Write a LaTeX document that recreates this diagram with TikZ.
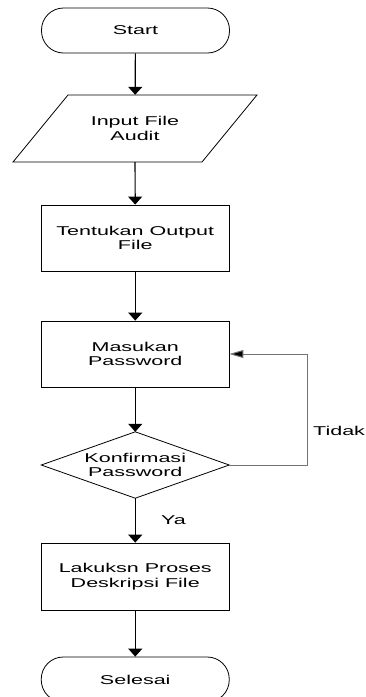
\documentclass[tikz,border=0pt]{standalone}
\usepackage{fontspec}
\newfontfamily\diagfont[FakeStretch=1.68]{Liberation Sans}
\usetikzlibrary{arrows.meta}
\begin{document}
\begin{tikzpicture}[x=1pt,y=-1pt,
  every node/.style={font=\diagfont\fontsize{12.8}{14.5}\selectfont, align=center, inner sep=0pt},
  box/.style={draw, line width=0.8pt, minimum width=187.5pt, minimum height=66pt},
  term/.style={draw, line width=0.8pt, rounded corners=22pt, minimum width=188pt, minimum height=45pt},
  ghost/.style={minimum width=189pt, minimum height=67pt},
  flow/.style={line width=1.2pt, -{Triangle[width=14pt,length=8pt]}},
  back/.style={line width=1pt, draw=black!55, -{Triangle[width=8pt,length=14pt,fill=black]}}
]
\useasboundingbox (0,0) rectangle (365,697);
\node[term] (start) at (135.5,30.5) {Start};
\node[ghost] (input) at (135,128.5) {Input File\\Audit};
\draw[line width=0.8pt] (68,95) -- (257,95) -- (202,162) -- (13,162) -- cycle;
\node[box] (out) at (135.25,238) {Tentukan Output\\File};
\node[box] (pass) at (135.25,354) {Masukan\\Password};
\node[ghost, minimum width=187.5pt, minimum height=66pt] (dec) at (135.25,465) {Konfirmasi\\Password};
\draw[line width=0.8pt] (dec.north) -- (dec.east) -- (dec.south) -- (dec.west) -- cycle;
\node[box, minimum height=67pt] (proc) at (135.25,576.5) {Lakuksn Proses\\Deskripsi File};
\node[term] (end) at (135.25,679.5) {Selesai};
\coordinate (c1) at (307.5,465);
\coordinate (c2) at (307.5,354);
\draw[flow] (start) -- (input);
\draw[flow] (input) -- (out);
\draw[flow] (out) -- (pass);
\draw[flow] (pass) -- (dec.north);
\draw[flow] (dec.south) -- (proc);
\draw[flow] (proc) -- (end);
\draw[back] (dec.east) -- (c1) -- (c2) -- (pass.east);
\node[anchor=west] (tidak) at (313,431) {Tidak};
\node (ya) at (173.5,520) {Ya};
\end{tikzpicture}
\end{document}
